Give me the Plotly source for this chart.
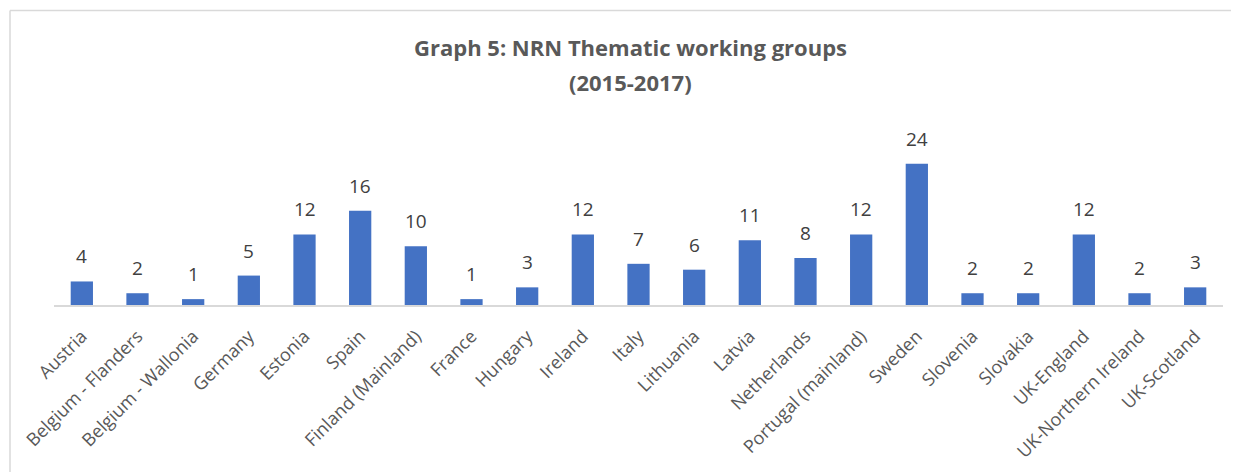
import plotly.graph_objects as go

categories = ["Austria", "Belgium - Flanders", "Belgium - Wallonia", "Germany", "Estonia",
              "Spain", "Finland (Mainland)", "France", "Hungary", "Ireland", "Italy",
              "Lithuania", "Latvia", "Netherlands", "Portugal (mainland)", "Sweden",
              "Slovenia", "Slovakia", "UK-England", "UK-Northern Ireland", "UK-Scotland"]
values = [4, 2, 1, 5, 12, 16, 10, 1, 3, 12, 7, 6, 11, 8, 12, 24, 2, 2, 12, 2, 3]
title_lines = ["Graph 5: NRN Thematic working groups", "(2015-2017)"]

# page body adds an 8px offset, so the figure is sized/positioned to compensate
W, H = 1231, 464
L, R = 46, 16
base = 297
ph = 26 * 5.875
T = base - ph
B = H - base
pw = W - L - R

FONT = "Open Sans, sans-serif"

fig = go.Figure()
fig.add_trace(go.Bar(x=categories, y=values, marker=dict(color="#4472C4", line=dict(width=0)),
                     hoverinfo="x+y"))

for c, v in zip(categories, values):
    fig.add_annotation(x=c, y=v, text=str(v), showarrow=False, yanchor="middle", yshift=25,
                       font=dict(family=FONT, size=19, color="#404040"))

for i, (line, yc) in enumerate(zip(title_lines, [39, 74])):
    fig.add_annotation(xref="paper", yref="paper", x=(622 - L) / pw, y=(base - yc) / ph,
                       text="<b>" + line + "</b>", showarrow=False,
                       xanchor="center", yanchor="middle",
                       font=dict(family=FONT, size=22, color="#595959"))

bx0 = (2 - L) / pw
by1 = (base - 3) / ph
fig.update_layout(
    width=W, height=H,
    margin=dict(l=L, r=R, t=T, b=B, autoexpand=False),
    paper_bgcolor="white", plot_bgcolor="white",
    bargap=0.6,
    showlegend=False,
    xaxis=dict(tickangle=-45, showgrid=False, showline=True, linecolor="#D9D9D9", linewidth=1.5,
               ticks="outside", ticklen=12, tickcolor="rgba(0,0,0,0)", automargin=False,
               tickfont=dict(family=FONT, size=18, color="#595959")),
    yaxis=dict(range=[0, 26], visible=False, showgrid=False, zeroline=False),
    shapes=[
        dict(type="line", xref="paper", yref="paper", x0=bx0, x1=(W + 10 - L) / pw,
             y0=by1, y1=by1, line=dict(color="#D9D9D9", width=1.5), layer="below"),
        dict(type="line", xref="paper", yref="paper", x0=bx0, x1=bx0,
             y0=by1, y1=-(B + 10) / ph, line=dict(color="#D9D9D9", width=1.5), layer="below"),
    ],
)

fig.write_html("out.html")
